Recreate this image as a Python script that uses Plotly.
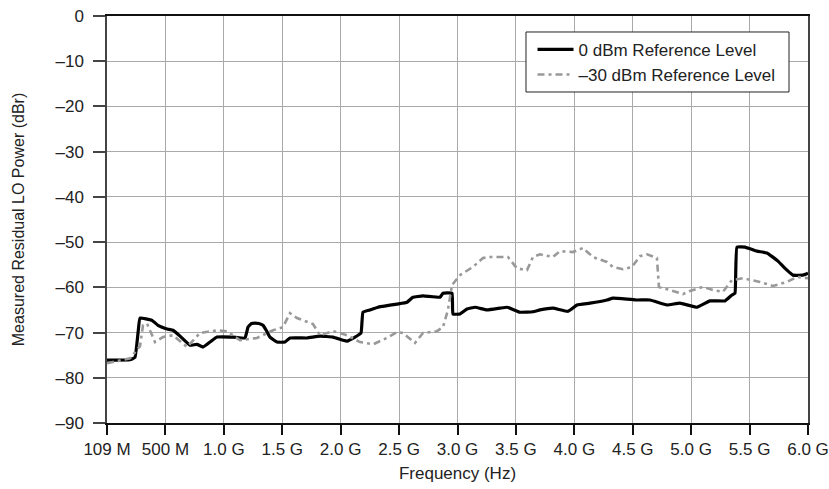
import numpy as np
import plotly.graph_objects as go

# Tick labels (equally spaced on the axis)
tick_freqs_ghz = [0.109, 0.5, 1.0, 1.5, 2.0, 2.5, 3.0, 3.5, 4.0, 4.5, 5.0, 5.5, 6.0]
tick_labels = ["109 M", "500 M", "1.0 G", "1.5 G", "2.0 G", "2.5 G", "3.0 G",
               "3.5 G", "4.0 G", "4.5 G", "5.0 G", "5.5 G", "6.0 G"]
y_ticks = [0, -10, -20, -30, -40, -50, -60, -70, -80, -90]
y_labels = ["0", "\u201310", "\u201320", "\u201330", "\u201340", "\u201350",
            "\u201360", "\u201370", "\u201380", "\u201390"]

# 0 dBm Reference Level
f0_ghz = [0.109, 0.263, 0.296, 0.317, 0.330, 0.410, 0.450, 0.514, 0.565, 0.625,
          0.710, 0.770, 0.822, 0.882, 0.941, 1.078, 1.181, 1.207, 1.237, 1.267,
          1.300, 1.335, 1.365, 1.395, 1.455, 1.523, 1.566, 1.712, 1.823, 1.934,
          2.020, 2.054, 2.123, 2.174, 2.191, 2.251, 2.319, 2.362, 2.482, 2.568,
          2.619, 2.705, 2.850, 2.876, 2.953, 2.961, 3.021, 3.081, 3.150, 3.252,
          3.364, 3.424, 3.535, 3.646, 3.706, 3.817, 3.946, 4.023, 4.134, 4.279,
          4.331, 4.451, 4.536, 4.648, 4.793, 4.904, 5.050, 5.161, 5.289, 5.349,
          5.375, 5.392, 5.461, 5.563, 5.649, 5.743, 5.820, 5.871, 5.957, 6.000]
p0_dbr = [-76.1, -76.0, -75.5, -70.0, -66.8, -67.3, -68.4, -69.2, -69.5, -70.8,
          -72.8, -72.6, -73.2, -72.1, -71.0, -71.0, -71.2, -68.8, -68.0, -67.9,
          -68.0, -68.4, -69.6, -71.0, -72.1, -72.1, -71.2, -71.2, -70.8, -71.0,
          -71.7, -71.9, -71.0, -70.1, -65.5, -65.0, -64.4, -64.2, -63.7, -63.3,
          -62.2, -61.9, -62.2, -61.3, -61.3, -65.9, -65.9, -64.8, -64.4, -65.0,
          -64.6, -64.4, -65.5, -65.4, -65.0, -64.6, -65.3, -63.9, -63.5, -62.8,
          -62.4, -62.6, -62.8, -62.8, -63.9, -63.5, -64.4, -63.0, -63.0, -61.7,
          -61.3, -51.1, -51.1, -52.0, -52.4, -54.2, -56.2, -57.3, -57.3, -56.9]

# -30 dBm Reference Level
f30_ghz = [0.109, 0.263, 0.330, 0.350, 0.377, 0.430, 0.484, 0.565, 0.685, 0.796,
           0.941, 1.027, 1.138, 1.284, 1.421, 1.506, 1.566, 1.626, 1.763, 1.797,
           1.823, 1.934, 1.968, 2.054, 2.165, 2.277, 2.396, 2.482, 2.533, 2.636,
           2.705, 2.824, 2.876, 2.918, 2.953, 3.021, 3.132, 3.218, 3.278, 3.432,
           3.509, 3.595, 3.646, 3.706, 3.817, 3.877, 3.988, 4.074, 4.160, 4.279,
           4.331, 4.416, 4.493, 4.562, 4.622, 4.707, 4.724, 4.844, 4.930, 4.990,
           5.101, 5.187, 5.272, 5.349, 5.443, 5.589, 5.700, 5.820, 5.906, 6.000]
p30_dbr = [-76.8, -75.7, -73.0, -68.4, -68.0, -72.1, -71.0, -70.6, -73.2, -70.1,
           -69.5, -69.7, -71.7, -71.2, -69.5, -68.8, -65.7, -66.8, -68.1, -69.5,
           -70.6, -69.7, -69.9, -70.6, -72.1, -72.6, -71.2, -69.9, -70.1, -72.3,
           -70.1, -69.7, -68.8, -65.0, -59.5, -57.3, -55.5, -53.5, -53.3, -53.3,
           -55.8, -56.2, -53.3, -52.7, -53.3, -52.0, -52.2, -51.3, -53.3, -54.4,
           -55.5, -56.0, -55.5, -53.1, -52.7, -53.5, -59.9, -60.8, -61.5, -60.8,
           -59.9, -60.6, -61.0, -58.4, -58.0, -58.8, -59.7, -58.8, -57.7, -58.0]

tick_pos = list(range(len(tick_freqs_ghz)))


def to_axis(f):
    # frequency axis is piecewise-linear between equally spaced labelled ticks
    return np.interp(f, tick_freqs_ghz, tick_pos)


font_family = "Liberation Sans, Arial, sans-serif"
text_color = "#222222"

fig = go.Figure()
fig.add_trace(go.Scatter(
    x=to_axis(f0_ghz), y=p0_dbr, mode="lines",
    name="0 dBm Reference Level",
    line=dict(color="#000000", width=3.2, shape="spline", smoothing=0.3),
))
fig.add_trace(go.Scatter(
    x=to_axis(f30_ghz), y=p30_dbr, mode="lines",
    name="\u201330 dBm Reference Level",
    line=dict(color="#999999", width=2.6, dash="7px,4px,3px,4px"),
))

# legend frame drawn as a box so it can be wider than the text
fig.add_shape(
    type="rect", xref="paper", yref="paper",
    x0=0.5977, x1=0.9729, y0=0.8133, y1=0.9607,
    line=dict(color="#222222", width=1), fillcolor="white", layer="above",
)

fig.update_layout(
    width=829, height=489,
    margin=dict(l=107, r=21, t=16, b=66),
    paper_bgcolor="white", plot_bgcolor="white",
    font=dict(family=font_family, size=17, color=text_color),
    showlegend=True,
    legend=dict(
        x=0.607, y=0.961, xanchor="left", yanchor="top",
        bgcolor="rgba(0,0,0,0)", borderwidth=0,
        font=dict(size=17, color=text_color),
        tracegroupgap=0, itemwidth=36,
    ),
    xaxis=dict(
        range=[0, 12], tickmode="array", tickvals=tick_pos, ticktext=tick_labels,
        showgrid=True, gridcolor="#aaaaaa", gridwidth=1,
        showline=True, linecolor="#111111", linewidth=1.5, mirror=True,
        ticks="outside", ticklen=10, tickcolor="#111111", tickwidth=1.5,
        zeroline=False, automargin=False,
        title=dict(text="Frequency (Hz)", standoff=9, font=dict(size=17)),
        tickfont=dict(size=17),
    ),
    yaxis=dict(
        range=[-90, 0], tickmode="array", tickvals=y_ticks, ticktext=y_labels,
        showgrid=True, gridcolor="#aaaaaa", gridwidth=1,
        showline=True, linecolor="#444444", linewidth=1.5, mirror=True,
        ticks="outside", ticklen=12, tickcolor="#444444", tickwidth=1.5,
        ticklabelstandoff=6,
        zeroline=False, automargin=False,
        title=dict(text="Measured Residual LO Power (dBr)", standoff=27,
                   font=dict(size=16)),
        tickfont=dict(size=17),
    ),
)

fig.write_html("out.html")
